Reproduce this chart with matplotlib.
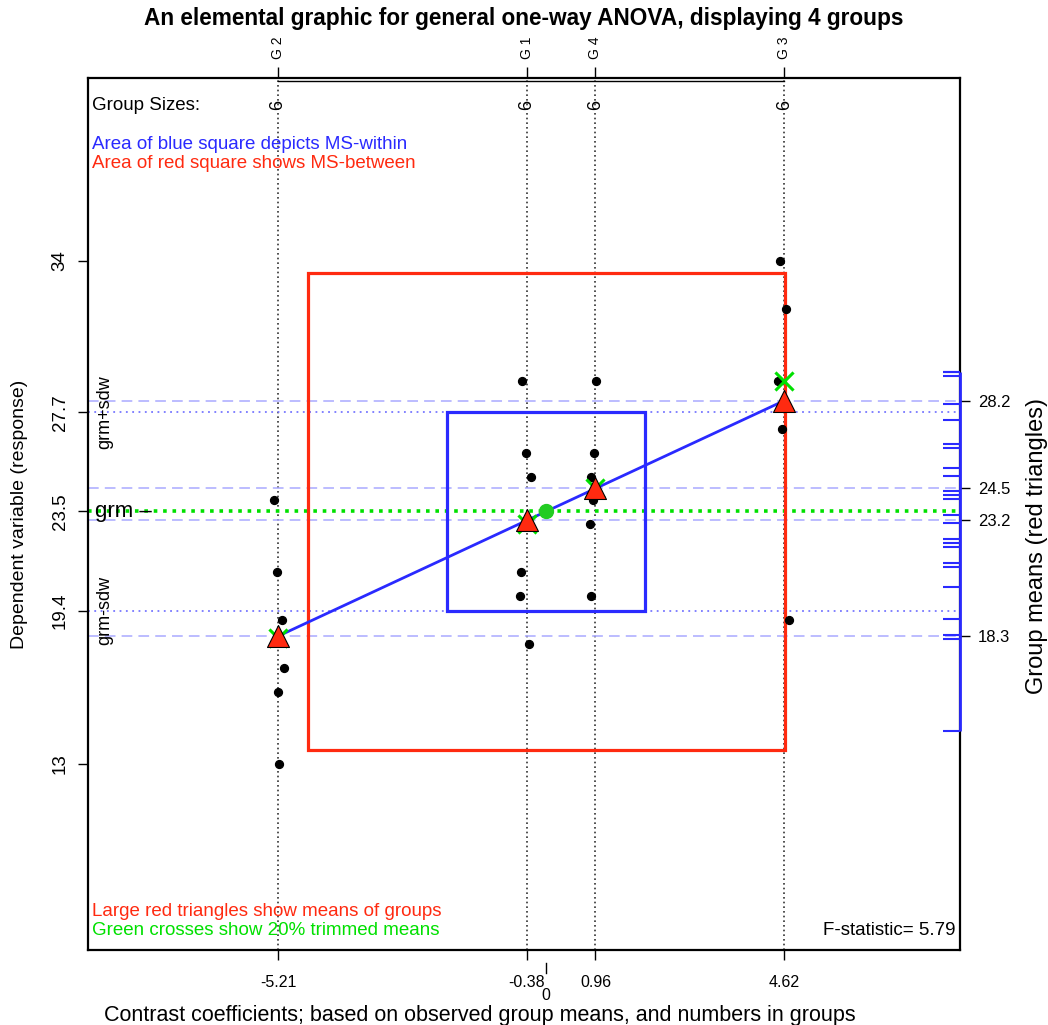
import numpy as np
import matplotlib
matplotlib.use("Agg")
import matplotlib.pyplot as plt
from matplotlib.patches import Rectangle
from matplotlib.transforms import blended_transform_factory

plt.rcParams['font.family'] = ['Liberation Sans', 'DejaVu Sans']

group_names = ["G 1", "G 2", "G 3", "G 4"]
g1 = [29, 26, 25, 21, 20, 18]
g2 = [24, 21, 19, 17, 16, 13]
g3 = [34, 32, 29, 28, 27, 19]
g4 = [29, 26, 25, 24, 23, 20]

# small horizontal jitter of the dots, in contrast units
jit1 = [-0.10, -0.01, 0.09, -0.12, -0.14, 0.04]
jit2 = [-0.08, -0.02, 0.08, 0.12, 0.00, 0.02]
jit3 = [-0.09, 0.03, -0.13, 0.00, -0.04, 0.09]
jit4 = [0.02, -0.02, -0.08, -0.04, -0.10, -0.08]

contrast_labels = ["-0.38", "-5.21", "4.62", "0.96"]
left_labels = ["13", "19.4", "23.5", "27.7", "34"]
mean_labels = ["23.2", "18.3", "28.2", "24.5"]
f_label = "F-statistic= 5.79"

values = [np.array(g, dtype=float) for g in (g1, g2, g3, g4)]
jitters = [jit1, jit2, jit3, jit4]
sizes = [len(v) for v in values]
allv = np.concatenate(values)
means = np.array([v.mean() for v in values])
grm = allv.mean()
contrasts = means - grm
trimmed = []
for v in values:
    k = int(0.2 * len(v))
    trimmed.append(np.sort(v)[k:len(v) - k].mean())
ssw = sum(((v - v.mean()) ** 2).sum() for v in values)
msw = ssw / (len(allv) - len(values))
sdw = np.sqrt(msw)
msb = sum(n * (m - grm) ** 2 for n, m in zip(sizes, means)) / (len(values) - 1)
resid = np.concatenate([v - v.mean() for v in values]) + grm

fig = plt.figure(figsize=(10.48, 10.25), dpi=100)
ax = fig.add_axes([88 / 1048, 75 / 1025, 872 / 1048, 872 / 1025])
xlim = (-8.90, 8.04)
ylim = (5.23, 41.64)
ax.set_xlim(xlim)
ax.set_ylim(ylim)
ratio = (xlim[1] - xlim[0]) / (ylim[1] - ylim[0])

blue = '#2a2aff'
red = '#ff2a10'
green = '#00e000'

# reference lines
for c in contrasts:
    ax.axvline(c, color='#333333', lw=1.2, ls=(0, (1, 1.8)), zorder=1)
for m in means:
    ax.axhline(m, color='#aaaaff', lw=1.1, ls=(0, (7, 4)), zorder=1)
for y in (grm - sdw, grm + sdw):
    ax.axhline(y, color='#7777ff', lw=1.3, ls=(0, (1, 2.5)), zorder=1)
ax.axhline(grm, color=green, lw=2.6, ls=(0, (1, 1.6)), zorder=1.5)

# squares for MS-between and MS-within
hb = np.sqrt(msb)
ax.add_patch(Rectangle((-hb * ratio, grm - hb), 2 * hb * ratio, 2 * hb,
                       fill=False, ec=red, lw=2.3, zorder=2))
ax.add_patch(Rectangle((-sdw * ratio, grm - sdw), 2 * sdw * ratio, 2 * sdw,
                       fill=False, ec=blue, lw=2.3, zorder=2))

# line through group means
lo, hi = np.argmin(contrasts), np.argmax(contrasts)
ax.plot([contrasts[lo], contrasts[hi]], [means[lo], means[hi]], color=blue, lw=2, zorder=2.5)

for c, v, j in zip(contrasts, values, jitters):
    ax.scatter(c + np.array(j), v, s=32, color='black', zorder=3)
ax.scatter(contrasts, trimmed, marker='x', s=170, color=green, linewidths=2.2, zorder=3.5)
ax.scatter(contrasts, means, marker='^', s=250, facecolor=red, edgecolor='black',
           linewidths=0.8, zorder=4)
ax.plot([0], [grm], 'o', color='#22cc22', ms=10, zorder=3.6)

# rug of residuals (shifted to grand mean) on the right side
tr = blended_transform_factory(ax.transAxes, ax.transData)
ax.hlines(resid, 1 - 17 / 872, 1, transform=tr, color=blue, lw=1.5, zorder=5)
ax.vlines(1, resid.min(), resid.max(), transform=tr, color=blue, lw=2, zorder=5, clip_on=False)

# top axis line between outer groups
trx = blended_transform_factory(ax.transData, ax.transAxes)
ax.plot([contrasts.min(), contrasts.max()], [1 - 3 / 872] * 2, transform=trx,
        color='black', lw=1, clip_on=False, zorder=5)

for sp in ax.spines.values():
    sp.set_linewidth(1.6)

# left axis
ax.set_yticks([allv.min(), grm - sdw, grm, grm + sdw, allv.max()])
ax.set_yticklabels(left_labels, rotation=90, va='center', fontsize=13.5)
ax.tick_params(axis='y', length=7, width=1, pad=7)

# bottom axis
ax.set_xticks(contrasts)
ax.set_xticklabels(contrast_labels, fontsize=11.5)
ax.tick_params(axis='x', length=7, width=1, pad=11)
ax.plot([0, 0], [-13 / 872, -23 / 872], transform=trx, color='black', lw=1, clip_on=False)
ax.text(0, -46 / 872, "0", transform=trx, ha='center', va='center', fontsize=11.5)

# top axis with group names
top = ax.secondary_xaxis('top')
top.set_xticks(contrasts)
top.set_xticklabels(group_names, rotation=90, fontsize=10, va='bottom')
top.tick_params(length=8, width=1, pad=6)
top.spines['top'].set_visible(False)

# right axis with group means
right = ax.secondary_yaxis('right')
right.set_yticks(means)
right.set_yticklabels(mean_labels, fontsize=12)
right.tick_params(length=7, width=1, pad=6)
right.spines['right'].set_visible(False)

# group sizes
for c, n in zip(contrasts, sizes):
    ax.text(c, 0.969, str(n), transform=trx, rotation=90, ha='center', va='center', fontsize=13)

ax.text(4 / 872, 0.969, "Group Sizes:", transform=ax.transAxes, fontsize=13.5, va='center')
ax.text(4 / 872, 0.924, "Area of blue square depicts MS-within", transform=ax.transAxes,
        fontsize=13.5, va='center', color=blue)
ax.text(4 / 872, 0.9025, "Area of red square shows MS-between", transform=ax.transAxes,
        fontsize=13.5, va='center', color=red)
ax.text(4 / 872, 0.0436, "Large red triangles show means of groups", transform=ax.transAxes,
        fontsize=13.5, va='center', color=red)
ax.text(4 / 872, 0.0229, "Green crosses show 20% trimmed means", transform=ax.transAxes,
        fontsize=13.5, va='center', color=green)
ax.text(0.9943, 0.0229, f_label, transform=ax.transAxes, fontsize=13.5, va='center', ha='right')

# grm labels
tly = blended_transform_factory(ax.transAxes, ax.transData)
ax.text(7 / 872, grm, "grm \u2013", transform=tly, fontsize=16, va='center')
ax.text(17 / 872, grm + sdw, "grm+sdw", transform=tly, rotation=90, fontsize=13,
        ha='center', va='center')
ax.text(17 / 872, grm - sdw, "grm-sdw", transform=tly, rotation=90, fontsize=13,
        ha='center', va='center')

fig.text(0.5, 1 - 18 / 1025, "An elemental graphic for general one-way ANOVA, displaying 4 groups",
         ha='center', va='center', fontsize=16.3, fontweight='bold')
fig.text(480 / 1048, 1 - 1015 / 1025, "Contrast coefficients; based on observed group means, and numbers in groups",
         ha='center', va='center', fontsize=15.5)
fig.text(20 / 1048, 1 - 514 / 1025, "Dependent variable (response)", rotation=90,
         ha='center', va='center', fontsize=14)
fig.text(1037 / 1048, 1 - 546 / 1025, "Group means (red triangles)", rotation=90,
         ha='center', va='center', fontsize=17)

fig.savefig("out.png", dpi=100)
